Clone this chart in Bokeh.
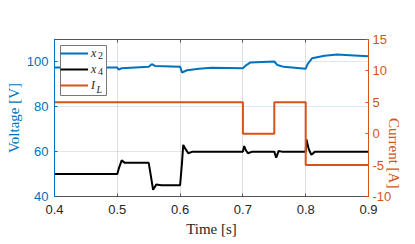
import math
from bokeh.plotting import figure
from bokeh.models import (Range1d, LinearAxis, FixedTicker, Legend, LegendItem,
                          Label, CustomJSTickFormatter, BoxAnnotation)
from bokeh.embed import file_html
from bokeh.resources import INLINE

# ---- data ----
t_x2 = [0.40, 0.50, 0.502, 0.507, 0.55, 0.555, 0.56, 0.60, 0.603, 0.611, 0.63, 0.65,
        0.70, 0.705, 0.712, 0.75, 0.755, 0.765, 0.80, 0.803, 0.81, 0.83, 0.85, 0.87, 0.90]
x2 = [97.5, 97.5, 96.6, 97.2, 97.8, 99.0, 98.2, 97.9, 95.3, 96.3, 97.0, 97.4,
      97.2, 98.5, 99.8, 100.2, 98.6, 97.8, 97.0, 99.0, 101.6, 102.8, 103.3, 103.0, 102.5]

t_x4 = [0.40, 0.50, 0.503, 0.507, 0.512, 0.55, 0.553, 0.557, 0.562, 0.57, 0.60, 0.603,
        0.605, 0.609, 0.613, 0.62, 0.70, 0.702, 0.705, 0.708, 0.715, 0.75, 0.753, 0.757,
        0.762, 0.80, 0.801, 0.805, 0.809, 0.815, 0.90]
x4 = [50, 50, 53, 56.1, 55, 55, 50, 43.0, 45.3, 45, 45, 55,
      63, 61, 59.3, 60, 60, 62.5, 60.5, 59.3, 60, 60, 57.3, 60.3,
      60, 60, 65.5, 61, 58.6, 60, 60]

t_il = [0.40, 0.70, 0.75, 0.80, 0.90]
il = [5, 0, 5, -5, -5]

x_ticks = [0.4, 0.5, 0.6, 0.7, 0.8, 0.9]
v_ticks = [40, 60, 80, 100]
i_ticks = [-10, -5, 0, 5, 10, 15]
i_labels = {-10: "-10", -5: "-5"}

legend_main = ["x", "x", "I"]
legend_sub = ["2", "4", "L"]

BLUE = "#0072BD"
ORANGE = "#D95319"
DARK = "#262626"
SERIF = "Liberation Serif"
SANS = "Liberation Sans"

FW, FH = 314, 157
xr = Range1d(0.4, 0.9)
yr = Range1d(40, 110)
DX = (xr.end - xr.start) / FW
DY = (yr.end - yr.start) / FH

p = figure(frame_width=FW, frame_height=FH, x_range=xr, y_range=yr,
           output_backend="svg", toolbar_location=None,
           min_border_left=54, min_border_top=39, min_border_right=0, min_border_bottom=0,
           background_fill_color="white", border_fill_color="white")
p.outline_line_color = "#555555"
p.outline_line_width = 1

p.extra_y_ranges = {"cur": Range1d(-10, 15)}

# grids
p.xgrid.ticker = FixedTicker(ticks=x_ticks)
p.xgrid.grid_line_color = DARK
p.xgrid.grid_line_alpha = 0.15
p.ygrid.ticker = FixedTicker(ticks=v_ticks)
p.ygrid.grid_line_color = BLUE
p.ygrid.grid_line_alpha = 0.15

def style_axis(ax, color, label_color, standoff):
    ax.axis_line_color = color
    ax.major_tick_line_color = color
    ax.major_tick_in = 3
    ax.major_tick_out = 0
    ax.minor_tick_line_color = None
    ax.major_label_text_color = label_color
    ax.major_label_text_font = SANS
    ax.major_label_text_font_size = "13px"
    ax.major_label_standoff = standoff
    ax.axis_label_text_color = label_color
    ax.axis_label_text_font = SERIF
    ax.axis_label_text_font_size = "15px"
    ax.axis_label_text_font_style = "normal"

# bottom axis
xa = p.xaxis[0]
xa.ticker = FixedTicker(ticks=x_ticks)
style_axis(xa, "#555555", DARK, 8)
xa.axis_label = "Time [s]"
xa.axis_label_standoff = 4

# left axis
ya = p.yaxis[0]
ya.ticker = FixedTicker(ticks=v_ticks)
style_axis(ya, BLUE, BLUE, 6)
ya.axis_label = "Voltage [V]"
ya.axis_label_standoff = 2

# right axis
ra = LinearAxis(y_range_name="cur", ticker=FixedTicker(ticks=i_ticks),
                major_label_overrides=i_labels, axis_label="Current [A]")
style_axis(ra, ORANGE, ORANGE, 4)
ra.axis_label_standoff = 0
try:
    ra.axis_label_orientation = -math.pi / 2
except Exception:
    pass
p.add_layout(ra, "right")

# top axis (ticks only)
ta = LinearAxis(ticker=FixedTicker(ticks=x_ticks),
                formatter=CustomJSTickFormatter(code="return ''"))
style_axis(ta, "#555555", DARK, 0)
ta.major_label_text_font_size = "0px"
p.add_layout(ta, "above")

# data
r1 = p.line(t_x2, x2, line_color=BLUE, line_width=2)
r2 = p.line(t_x4, x4, line_color="black", line_width=2)
r3 = p.step(t_il, il, mode="after", y_range_name="cur", line_color=ORANGE, line_width=2)

# legend box (white, drawn under a transparent legend)
LM, LW, LH = 6, 46, 50
p.add_layout(BoxAnnotation(left=xr.start + LM * DX, right=xr.start + (LM + LW) * DX,
                           top=yr.end - LM * DY, bottom=yr.end - (LM + LH) * DY,
                           fill_color="white", fill_alpha=1,
                           line_color="#777777", line_alpha=1, line_width=1))

legend = Legend(items=[LegendItem(label=lab, renderers=[r])
                       for lab, r in zip(legend_main, [r1, r2, r3])],
                location="top_left", margin=LM, padding=1, spacing=0,
                glyph_width=28, glyph_height=16, label_height=16, label_width=13,
                label_standoff=3,
                label_text_font=SERIF, label_text_font_style="italic",
                label_text_font_size="12px", label_text_color=DARK,
                border_line_color=None,
                background_fill_color="white", background_fill_alpha=0)
p.add_layout(legend)

# subscripts of the legend entries (pixel offsets inside the frame)
sub_px = [43.5, 43.5, 42]
sub_py = [144.5, 128.5, 112.5]
for txt, sx, sy in zip(legend_sub, sub_px, sub_py):
    p.add_layout(Label(x=xr.start + sx * DX, y=yr.start + sy * DY,
                       text=txt, text_font=SERIF,
                       text_font_style="italic" if txt == "L" else "normal",
                       text_font_size="10px", text_color=DARK,
                       text_baseline="top", text_align="left"))

open("out.html", "w").write(file_html(p, INLINE))
